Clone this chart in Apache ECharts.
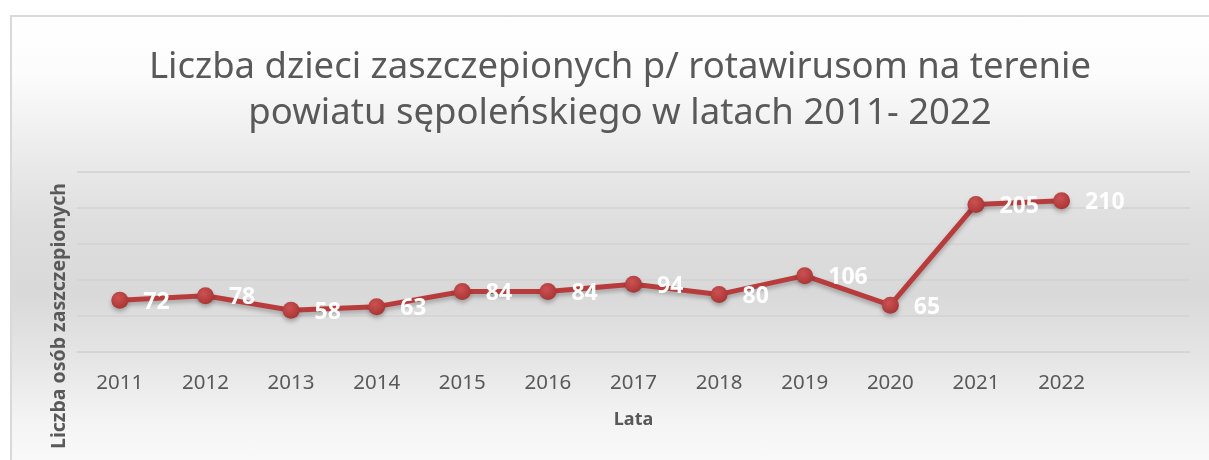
<!DOCTYPE html>
<html>
<head>
<meta charset="utf-8">
<script src="https://cdn.jsdelivr.net/npm/echarts@6/dist/echarts.min.js"></script>
<style>
  html, body { margin: 0; padding: 0; background: #fff; overflow: hidden; }
  #bg {
    position: absolute; left: 10px; top: 15px; width: 1300px; height: 460px;
    border-left: 2px solid #d9d9d9; border-top: 2px solid #d9d9d9;
    background: linear-gradient(to bottom, #ffffff 0%, #fcfcfc 12%, #ebebeb 30%, #dedede 45%, #d9d9d9 60%, #e6e6e6 75%, #f4f4f4 88%, #fbfbfb 100%);
  }
  #chart { position: absolute; left: 0; top: 0; width: 1209px; height: 460px; }
</style>
</head>
<body>
<div id="bg"></div>
<div id="chart"></div>
<script>
// lata (ostatnia kategoria pusta - jak w arkuszu)
var years = ['2011', '2012', '2013', '2014', '2015', '2016', '2017', '2018', '2019', '2020', '2021', '2022', ''];
// liczba dzieci zaszczepionych
var vaccinated = [72, 78, 58, 63, 84, 84, 94, 80, 106, 65, 205, 210, null];
var yTicks = [0, 50, 100, 150, 200, 250];

var chart = echarts.init(document.getElementById('chart'));
chart.setOption({
  backgroundColor: 'transparent',
  animation: false,
  title: {
    text: 'Liczba dzieci zaszczepionych p/ rotawirusom na terenie\npowiatu sępoleńskiego w latach 2011- 2022',
    left: 615,
    top: 40,
    textAlign: 'center',
    textStyle: {
      fontFamily: 'Noto Sans',
      fontSize: 36.5,
      fontWeight: 'normal',
      color: '#595959',
      lineHeight: 46
    }
  },
  grid: {
    left: 77,
    right: 19,
    top: 172,
    bottom: 108
  },
  xAxis: {
    type: 'category',
    data: years,
    boundaryGap: true,
    name: 'Lata',
    nameLocation: 'middle',
    nameGap: 59,
    nameTextStyle: {
      fontFamily: 'Noto Sans',
      fontSize: 18,
      fontWeight: 'bold',
      color: '#595959'
    },
    axisLine: { show: true, lineStyle: { color: '#d4d4d4', width: 1.5 } },
    axisTick: { show: false },
    axisLabel: {
      fontFamily: 'Noto Sans',
      fontSize: 20.5,
      color: '#595959',
      margin: 21
    }
  },
  yAxis: {
    type: 'value',
    min: yTicks[0],
    max: yTicks[yTicks.length - 1],
    interval: 50,
    axisLine: { show: false },
    axisTick: { show: false },
    axisLabel: { show: false },
    splitLine: { lineStyle: { color: '#d2d2d2', width: 1.5 } }
  },
  graphic: [{
    type: 'text',
    left: 49,
    top: 183,
    rotation: Math.PI / 2,
    style: {
      text: 'Liczba osób zaszczepionych',
      fontFamily: 'Noto Sans',
      fontSize: 19.5,
      fontWeight: 'bold',
      fill: '#595959'
    }
  }],
  series: [{
    type: 'line',
    data: vaccinated,
    symbol: 'circle',
    symbolSize: 17,
    lineStyle: {
      color: '#b83c3c',
      width: 5,
      shadowColor: 'rgba(0,0,0,0.25)',
      shadowBlur: 4,
      shadowOffsetY: 3
    },
    itemStyle: {
      color: new echarts.graphic.RadialGradient(0.4, 0.35, 0.7, [
        { offset: 0, color: '#cc5252' },
        { offset: 1, color: '#a83333' }
      ]),
      borderWidth: 0,
      shadowColor: 'rgba(0,0,0,0.25)',
      shadowBlur: 4,
      shadowOffsetY: 3
    },
    label: {
      show: true,
      position: 'right',
      distance: 15,
      offset: [0, 2],
      fontFamily: 'Noto Sans',
      fontSize: 23,
      fontWeight: 'bold',
      color: '#ffffff'
    }
  }]
});
</script>
</body>
</html>
